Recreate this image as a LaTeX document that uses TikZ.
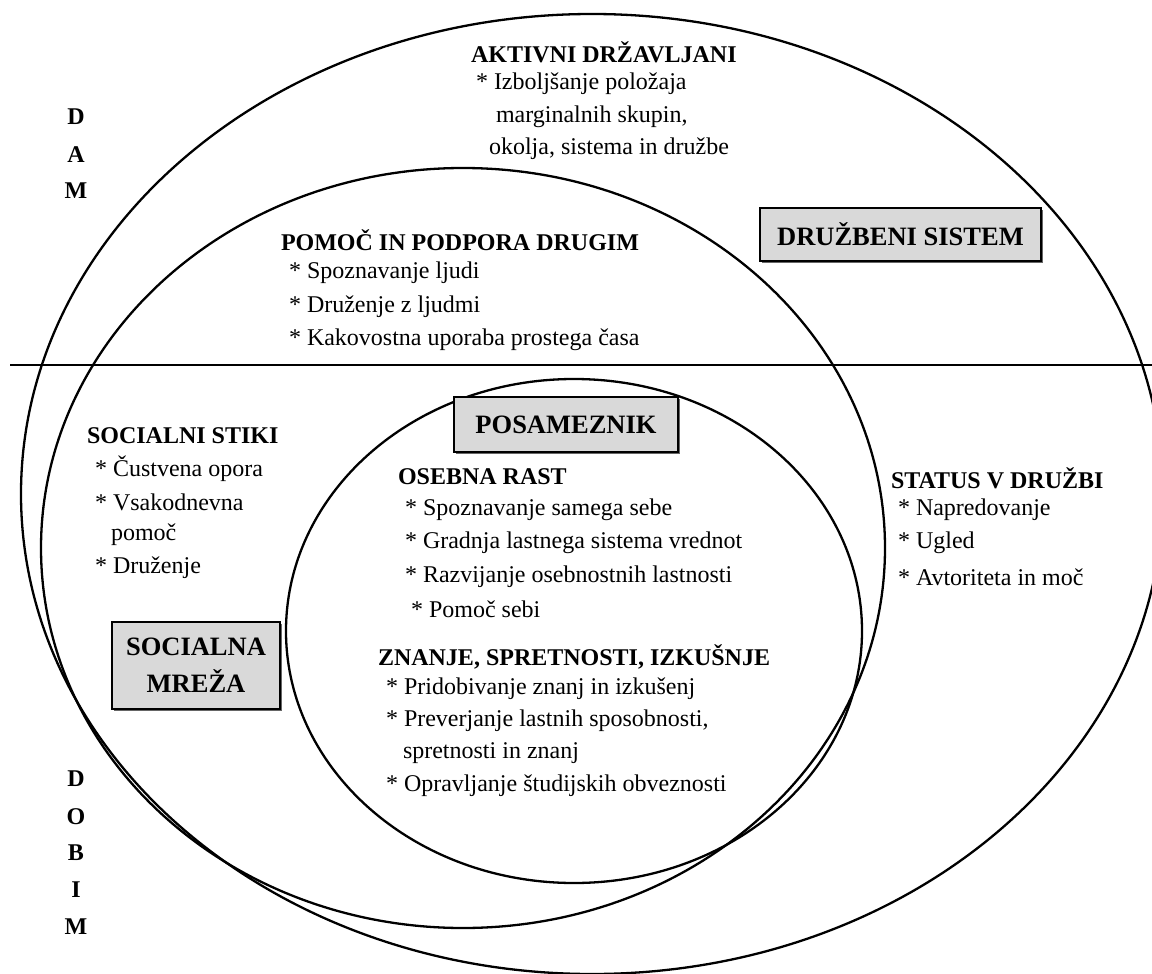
\documentclass[tikz,border=0pt]{standalone}
\usepackage{fontspec}
\setmainfont{Liberation Serif}
\usetikzlibrary{shadows}
\begin{document}
\begin{tikzpicture}[x=1pt,y=-1pt,
  every node/.style={inner sep=0pt, outer sep=0pt, font=\fontsize{24}{28}\selectfont},
  ring/.style={draw=black, line width=2.3pt},
  lbl/.style={anchor=west},
  head/.style={anchor=west, font=\fontsize{24}{28}\selectfont\bfseries},
  letter/.style={font=\fontsize{24}{28}\selectfont\bfseries},
  graybox/.style={draw=black, line width=2pt, fill=gray!30,
    drop shadow={shadow xshift=1.5pt, shadow yshift=-1.5pt, fill=black!60, opacity=1},
    font=\fontsize{26.5}{37}\selectfont\bfseries, align=center},
  divider/.style={draw=black, line width=2pt}]
\useasboundingbox (0,0) rectangle (1152,974);
\begin{scope}
\clip (0,0) rectangle (1152,974);
\draw[ring] (592,494) ellipse [x radius=571, y radius=480];
\draw[ring] (463,548) ellipse [x radius=422, y radius=380];
\draw[ring] (574,631) ellipse [x radius=288, y radius=252];
\coordinate (hl) at (10,365);
\coordinate (hr) at (1152,365);
\draw[divider] (hl) -- (hr);
\end{scope}

% DAM
\node[letter] (d1) at (76,117) {D};
\node[letter] (d2) at (76,155) {A};
\node[letter] (d3) at (76,191) {M};
% DOBIM
\node[letter] (o1) at (76,779) {D};
\node[letter] (o2) at (76,817) {O};
\node[letter] (o3) at (76,853) {B};
\node[letter] (o4) at (76,890) {I};
\node[letter] (o5) at (76,927) {M};

% Aktivni drzavljani
\node[head] (akt) at (471,52) {AKTIVNI DRŽAVLJANI};
\node[lbl] (akt1) at (476,84) {* Izboljšanje položaja};
\node[lbl] (akt2) at (496,117) {marginalnih skupin,};
\node[lbl] (akt3) at (489,149) {okolja, sistema in družbe};

% Druzbeni sistem
\node[graybox, minimum width=281, minimum height=53] (ds) at (900.5,234.5) {DRUŽBENI SISTEM};

% Pomoc
\node[head] (pom) at (281,240) {POMOČ IN PODPORA DRUGIM};
\node[lbl] (pom1) at (289,273) {* Spoznavanje ljudi};
\node[lbl] (pom2) at (289,307) {* Druženje z ljudmi};
\node[lbl] (pom3) at (289,340) {* Kakovostna uporaba prostega časa};

% Posameznik
\node[graybox, minimum width=224, minimum height=55] (pos) at (566,424.5) {POSAMEZNIK};

% Socialni stiki
\node[head] (soc) at (87,436) {SOCIALNI STIKI};
\node[lbl] (soc1) at (95,469) {* Čustvena opora};
\node[lbl] (soc2) at (95,502) {* Vsakodnevna};
\node[lbl] (soc3) at (111,535) {pomoč};
\node[lbl] (soc4) at (95,568) {* Druženje};

% Socialna mreza
\node[graybox, minimum width=168, minimum height=87] (sm) at (196,665.5) {SOCIALNA\\MREŽA};

% Osebna rast
\node[head] (ose) at (398,477) {OSEBNA RAST};
\node[lbl] (ose1) at (405,510) {* Spoznavanje samega sebe};
\node[lbl] (ose2) at (405,543) {* Gradnja lastnega sistema vrednot};
\node[lbl] (ose3) at (405,577) {* Razvijanje osebnostnih lastnosti};
\node[lbl] (ose4) at (411,609) {* Pomoč sebi};

% Znanje
\node[head] (zna) at (378,657) {ZNANJE, SPRETNOSTI, IZKUŠNJE};
\node[lbl] (zna1) at (386,689) {* Pridobivanje znanj in izkušenj};
\node[lbl] (zna2) at (386,721) {* Preverjanje lastnih sposobnosti,};
\node[lbl] (zna3) at (403,753) {spretnosti in znanj};
\node[lbl] (zna4) at (386,786) {* Opravljanje študijskih obveznosti};

% Status
\node[head] (sta) at (891,478) {STATUS V DRUŽBI};
\node[lbl] (sta1) at (898,510) {* Napredovanje};
\node[lbl] (sta2) at (898,543) {* Ugled};
\node[lbl] (sta3) at (898,577) {* Avtoriteta in moč};
\end{tikzpicture}
\end{document}
